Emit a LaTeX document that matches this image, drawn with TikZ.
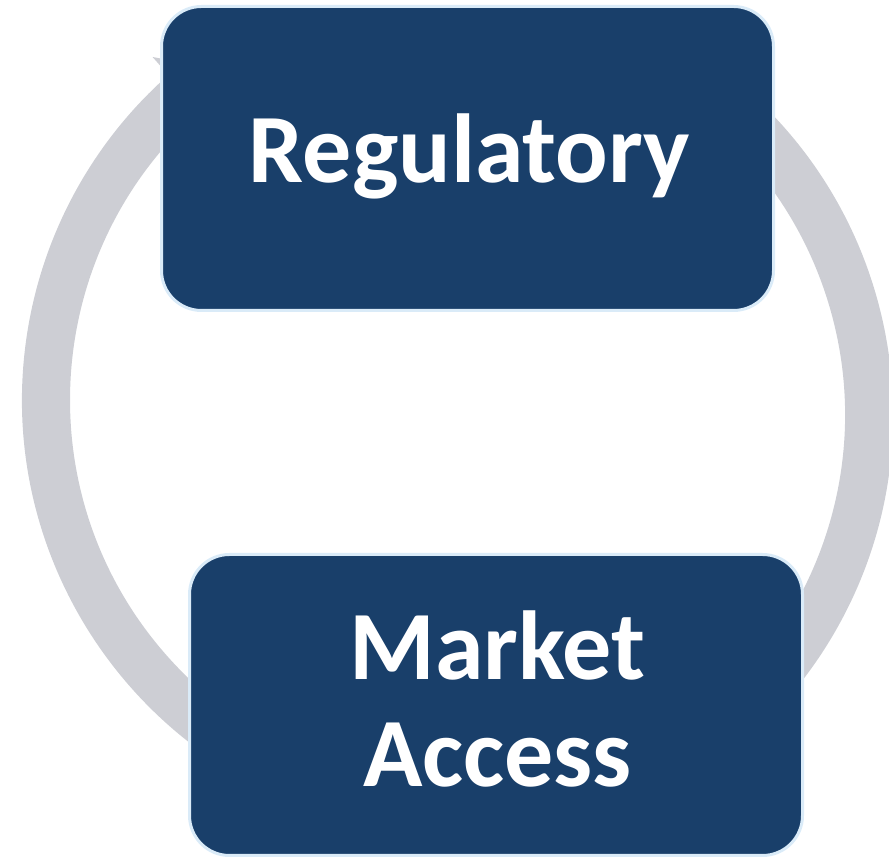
\documentclass[tikz,border=0pt]{standalone}
\usepackage{fontspec}
\setmainfont{Carlito}
\definecolor{navy}{RGB}{25,63,106}
\definecolor{edgeblue}{RGB}{218,235,248}
\definecolor{ringgrey}{RGB}{205,206,212}
\begin{document}
\begin{tikzpicture}[x=1pt,y=1pt,
  stagebox/.style={draw=edgeblue, line width=3pt, fill=navy, rounded corners=40pt, inner sep=0pt},
  stagetext/.style={text=white, font=\fontsize{98}{107}\selectfont\bfseries, anchor=base, inner sep=0pt},
  ringpart/.style={fill=ringgrey}]
\useasboundingbox (0,0) rectangle (889,858);
\clip (0,0) rectangle (889,858);
\coordinate (lc) at (456,458);
\coordinate (rc) at (459,443);
% left arc, Market Access -> Regulatory, with arrowhead
\path[ringpart] ([shift={(-100:434pt)}]lc) arc[start angle=-100, end angle=-228.5, radius=434pt]
  -- ([shift={(131.5:458pt)}]lc)
  -- ([shift={(124:395pt)}]lc)
  -- ([shift={(131.5:362pt)}]lc)
  -- ([shift={(131.5:386pt)}]lc)
  arc[start angle=131.5, end angle=260, radius=386pt] -- cycle;
% right arc, Regulatory -> Market Access
\path[ringpart] ([shift={(60:434pt)}]rc) arc[start angle=60, end angle=-70, radius=434pt]
  -- ([shift={(-70:386pt)}]rc)
  arc[start angle=-70, end angle=60, radius=386pt] -- cycle;
% boxes
\node[stagebox, minimum width=612pt, minimum height=304pt] (reg) at (467.5,699.5) {};
\node[stagebox, minimum width=613pt, minimum height=301pt] (mkt) at (496,153) {};
\node[stagetext] (regtext) at (469.5,675) {Regulatory};
\node[stagetext] (mkttext1) at (497.5,178) {Market};
\node[stagetext] (mkttext2) at (497.5,71) {Access};
\end{tikzpicture}
\end{document}
